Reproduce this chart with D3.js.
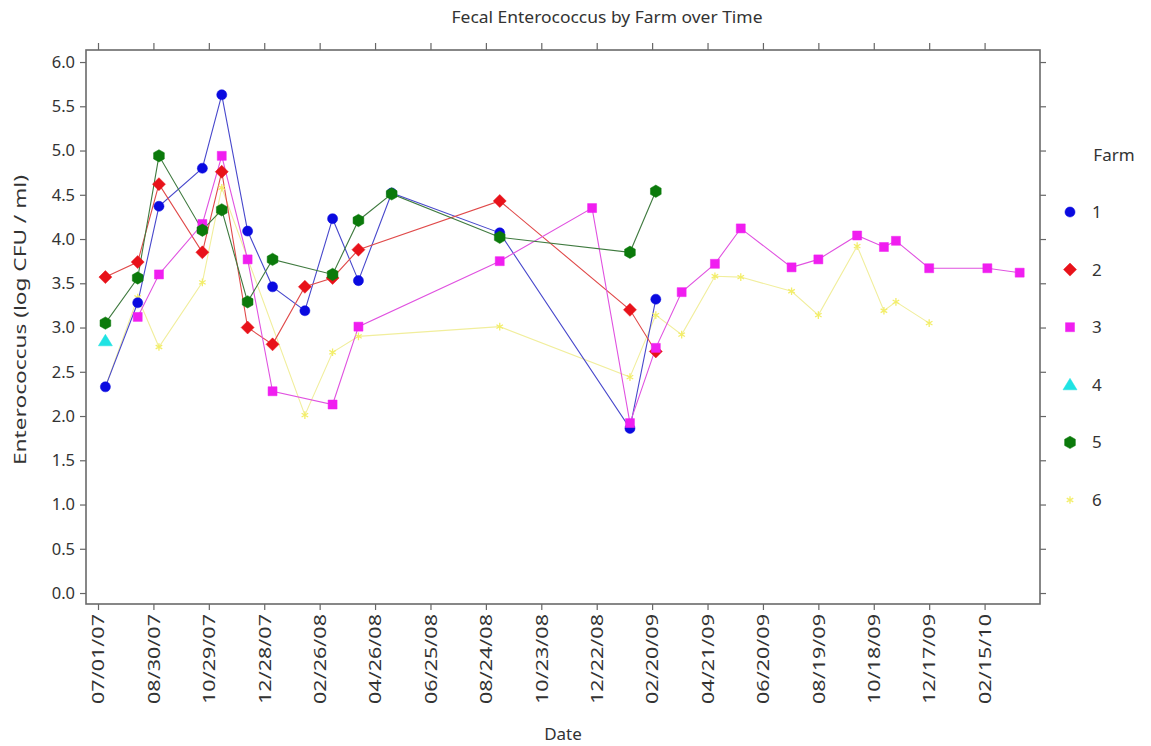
<!DOCTYPE html>
<html>
<head>
<meta charset="utf-8">
<script src="https://cdn.jsdelivr.net/npm/d3@7"></script>
<style>
  html, body { margin: 0; padding: 0; background: #fff; }
  svg text { font-family: "Noto Sans", "Open Sans", sans-serif; fill: #333; }
</style>
</head>
<body>
<svg id="chart" width="1151" height="746"></svg>
<script>
// ---------- DATA ----------
const xTickLabels = ["07/01/07","08/30/07","10/29/07","12/28/07","02/26/08","04/26/08","06/25/08","08/24/08",
  "10/23/08","12/22/08","02/20/09","04/21/09","06/20/09","08/19/09","10/18/09","12/17/09","02/15/10"];
const yTickValues = [0.0,0.5,1.0,1.5,2.0,2.5,3.0,3.5,4.0,4.5,5.0,5.5,6.0];

const farmNames = ["1","2","3","4","5","6"];

const farm1Dates = ["07/09/07","08/13/07","09/05/07","10/22/07","11/12/07","12/10/07","01/06/08","02/10/08",
  "03/11/08","04/08/08","05/14/08","09/08/08","01/27/09","02/24/09"];
const farm1Values = [2.33,3.28,4.37,4.80,5.63,4.09,3.46,3.19,4.23,3.53,4.52,4.07,1.86,3.32];

const farm2Dates = ["07/09/07","08/13/07","09/05/07","10/22/07","11/12/07","12/10/07","01/06/08","02/10/08",
  "03/11/08","04/08/08","09/08/08","01/27/09","02/24/09"];
const farm2Values = [3.57,3.74,4.62,3.85,4.76,3.00,2.81,3.46,3.56,3.88,4.43,3.20,2.73];

const farm3Dates = ["08/13/07","09/05/07","10/22/07","11/12/07","12/10/07","01/06/08","03/11/08","04/08/08",
  "09/08/08","12/17/08","01/27/09","02/24/09","03/24/09","04/29/09","05/27/09","07/21/09","08/19/09",
  "09/30/09","10/29/09","11/11/09","12/17/09","02/18/10","03/25/10"];
const farm3Values = [3.12,3.60,4.17,4.94,3.77,2.28,2.13,3.01,3.75,4.35,1.92,2.77,3.40,3.72,4.12,3.68,3.77,
  4.04,3.91,3.98,3.67,3.67,3.62];

const farm4Dates = ["07/09/07"];
const farm4Values = [2.85];

const farm5Dates = ["07/09/07","08/13/07","09/05/07","10/22/07","11/12/07","12/10/07","01/06/08","03/11/08",
  "04/08/08","05/14/08","09/08/08","01/27/09","02/24/09"];
const farm5Values = [3.05,3.56,4.94,4.10,4.33,3.29,3.77,3.60,4.21,4.51,4.02,3.85,4.54];

const farm6Dates = ["07/09/07","08/13/07","09/05/07","10/22/07","11/12/07","02/10/08","03/11/08","04/08/08",
  "09/08/08","01/27/09","02/24/09","03/24/09","04/29/09","05/27/09","07/21/09","08/19/09","09/30/09",
  "10/29/09","11/11/09","12/17/09"];
const farm6Values = [2.33,3.34,2.78,3.51,4.58,2.01,2.72,2.90,3.01,2.44,3.14,2.92,3.58,3.57,3.41,3.14,3.92,
  3.19,3.29,3.05];

// ---------- BUILD ----------
const parse = d3.timeParse("%m/%d/%y");
const seriesDates = [farm1Dates, farm2Dates, farm3Dates, farm4Dates, farm5Dates, farm6Dates];
const seriesValues = [farm1Values, farm2Values, farm3Values, farm4Values, farm5Values, farm6Values];

const styles = [
  {marker: "#0a0ae0", line: "#4848cc", shape: "circle"},
  {marker: "#e8121a", line: "#e04a4a", shape: "diamond"},
  {marker: "#f01ef0", line: "#e052e0", shape: "square"},
  {marker: "#1fe3e3", line: "#1fe3e3", shape: "triangle"},
  {marker: "#0b7a0b", line: "#3f7a3f", shape: "hexagon"},
  {marker: "#f3ee6a", line: "#f1ee9c", shape: "star"}
];

const series = farmNames.map((name, i) => ({
  name,
  style: styles[i],
  points: seriesDates[i].map((d, j) => ({date: parse(d), value: seriesValues[i][j]}))
}));

const svg = d3.select("#chart");
const frame = {left: 86, right: 1040, top: 50, bottom: 604};

const xScale = d3.scaleTime()
  .domain([new Date(2007, 5, 18), new Date(2010, 3, 16)])
  .range([frame.left, frame.right]);
const yScale = d3.scaleLinear()
  .domain([-0.124, 6.136])
  .range([frame.bottom, frame.top]);

const xTickValues = xTickLabels.map(parse);

function shapePath(shape) {
  switch (shape) {
    case "circle": return d3.symbol(d3.symbolCircle, 80)();
    case "square": return "M-4.5,-4.5H4.5V4.5H-4.5Z";
    case "diamond": return "M0,-6.5L6.5,0L0,6.5L-6.5,0Z";
    case "triangle": return "M0,-6.5L7,5L-7,5Z";
    case "hexagon": {
      const r = 6.2;
      const pts = d3.range(6).map(k => {
        const a = Math.PI / 6 + k * Math.PI / 3;
        return [r * Math.cos(a), r * Math.sin(a)];
      });
      return "M" + pts.map(p => p.join(",")).join("L") + "Z";
    }
    case "star": return d3.symbol(d3.symbolAsterisk, 40)();
  }
}

// axes
const gAxes = svg.append("g");
const axLeft = gAxes.append("g").attr("transform", `translate(${frame.left},0)`)
  .call(d3.axisLeft(yScale).tickValues(yTickValues).tickFormat(d3.format(".1f")).tickSize(6).tickSizeOuter(0));
gAxes.append("g").attr("transform", `translate(${frame.right},0)`)
  .call(d3.axisRight(yScale).tickValues(yTickValues).tickFormat("").tickSize(6).tickSizeOuter(0));
const axBottom = gAxes.append("g").attr("transform", `translate(0,${frame.bottom})`)
  .call(d3.axisBottom(xScale).tickValues(xTickValues).tickFormat((d, i) => xTickLabels[i]).tickSize(6).tickSizeOuter(0));
gAxes.append("g").attr("transform", `translate(0,${frame.top})`)
  .call(d3.axisTop(xScale).tickValues(xTickValues).tickFormat("").tickSize(7).tickSizeOuter(0));

gAxes.selectAll(".domain").remove();
gAxes.selectAll(".tick line").attr("stroke", "#666").attr("stroke-width", 1.2);

axLeft.selectAll("text")
  .attr("x", -11)
  .style("font-size", "16.5px")
  .attr("fill", "#333");

axBottom.selectAll("text")
  .attr("transform", "rotate(-90)")
  .attr("text-anchor", "end")
  .attr("x", -10)
  .attr("y", 0)
  .attr("dy", "0.35em")
  .style("font-size", "16.5px")
  .attr("textLength", 90)
  .attr("lengthAdjust", "spacingAndGlyphs")
  .attr("fill", "#333");

// frame
svg.append("rect")
  .attr("x", frame.left).attr("y", frame.top)
  .attr("width", frame.right - frame.left).attr("height", frame.bottom - frame.top)
  .attr("fill", "none").attr("stroke", "#6a6a6a").attr("stroke-width", 1.6);

// lines
const line = d3.line().x(d => xScale(d.date)).y(d => yScale(d.value));
const drawOrder = [5, 0, 1, 2, 3, 4];
const gLines = svg.append("g");
drawOrder.forEach(i => {
  const s = series[i];
  if (s.points.length < 2) return;
  gLines.append("path")
    .datum(s.points)
    .attr("d", line)
    .attr("fill", "none")
    .attr("stroke", s.style.line)
    .attr("stroke-width", 1.1);
});

// markers
const gMarks = svg.append("g");
drawOrder.forEach(i => {
  const s = series[i];
  gMarks.append("g").selectAll("path")
    .data(s.points)
    .join("path")
    .attr("transform", d => `translate(${xScale(d.date)},${yScale(d.value)})`)
    .attr("d", shapePath(s.style.shape))
    .attr("fill", s.style.shape === "star" ? "none" : s.style.marker)
    .attr("stroke", s.style.marker)
    .attr("stroke-width", s.style.shape === "star" ? 1.3 : 0.5);
});

// title & axis labels
svg.append("text")
  .attr("x", 607).attr("y", 23)
  .attr("text-anchor", "middle")
  .style("font-size", "16.5px")
  .attr("textLength", 311)
  .attr("lengthAdjust", "spacingAndGlyphs")
  .text("Fecal Enterococcus by Farm over Time");

svg.append("text")
  .attr("x", 563).attr("y", 740)
  .attr("text-anchor", "middle")
  .style("font-size", "17px")
  .text("Date");

svg.append("text")
  .attr("transform", "translate(26,320) rotate(-90)")
  .attr("text-anchor", "middle")
  .style("font-size", "16px")
  .attr("textLength", 290)
  .attr("lengthAdjust", "spacingAndGlyphs")
  .text("Enterococcus (log CFU / ml)");

// legend
const legend = svg.append("g");
legend.append("text")
  .attr("x", 1114).attr("y", 161)
  .attr("text-anchor", "middle")
  .style("font-size", "17px")
  .text("Farm");
const legendY = d3.scalePoint().domain(farmNames).range([212, 500]);
series.forEach(s => {
  const g = legend.append("g").attr("transform", `translate(1070,${legendY(s.name)})`);
  g.append("path")
    .attr("d", shapePath(s.style.shape))
    .attr("fill", s.style.shape === "star" ? "none" : s.style.marker)
    .attr("stroke", s.style.marker)
    .attr("stroke-width", s.style.shape === "star" ? 1.3 : 0.5);
  g.append("text")
    .attr("x", 22).attr("y", 0).attr("dy", "0.35em")
    .style("font-size", "17px")
    .text(s.name);
});
</script>
</body>
</html>
